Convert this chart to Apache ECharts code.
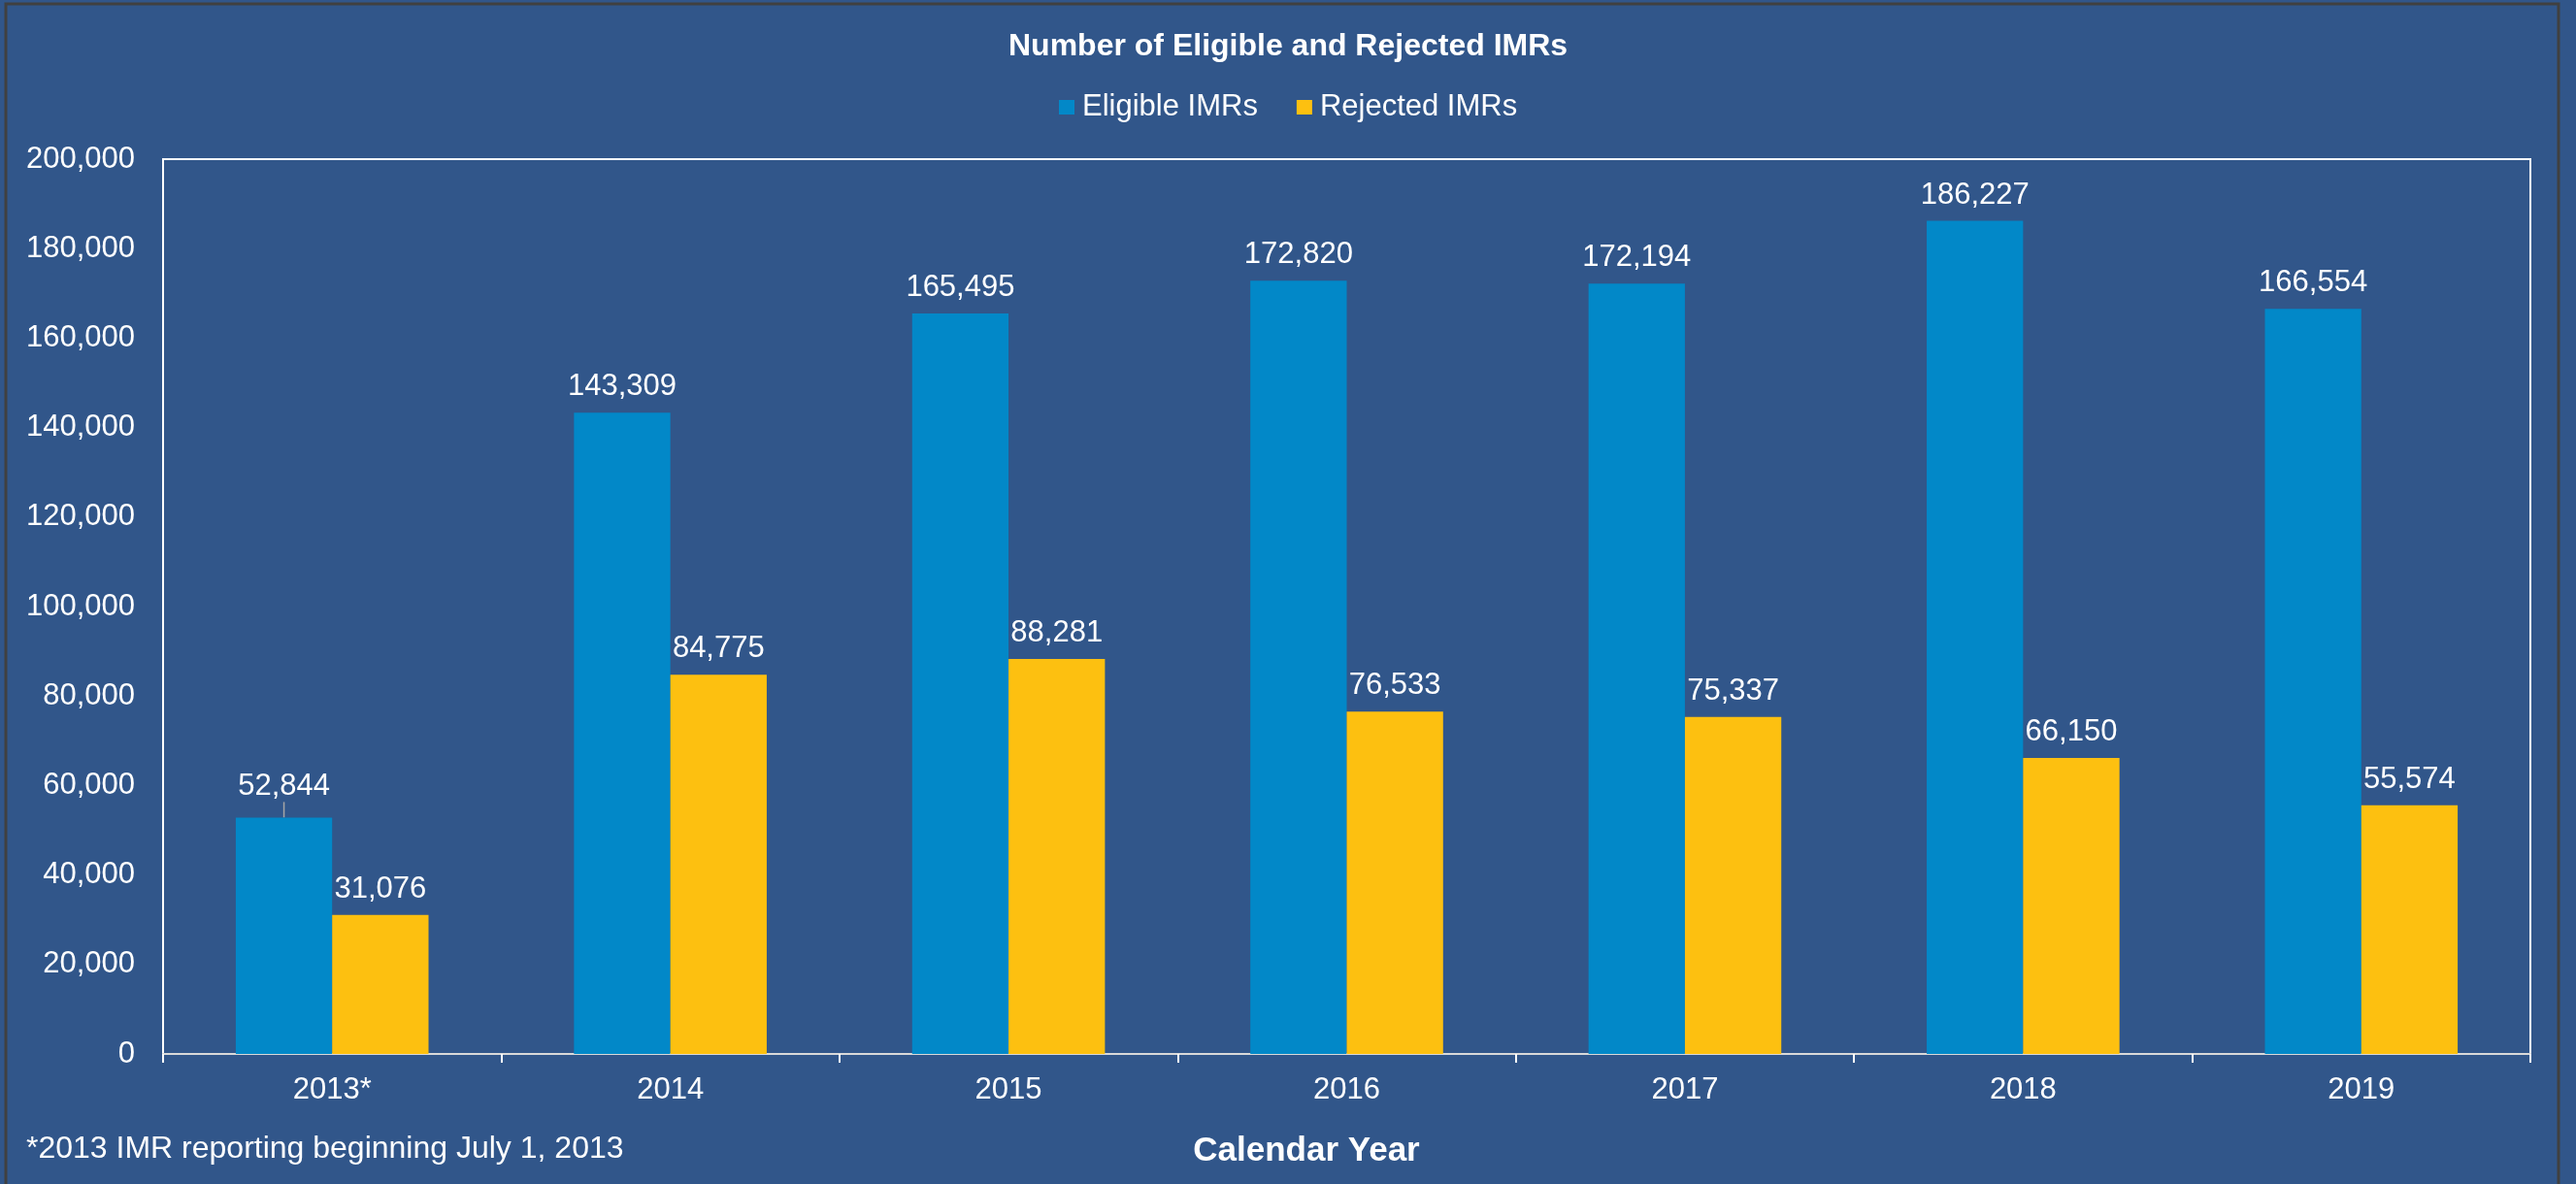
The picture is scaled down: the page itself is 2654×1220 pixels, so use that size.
<!DOCTYPE html>
<html>
<head>
<meta charset="utf-8">
<title>Number of Eligible and Rejected IMRs</title>
<script src="https://cdn.jsdelivr.net/npm/echarts@6/dist/echarts.min.js"></script>
<style>
  html, body { margin: 0; padding: 0; background: #31568a; }
  #chart { width: 2654px; height: 1220px; }
</style>
</head>
<body>
<div id="chart"></div>
<script>
// Calendar years on the category axis
const years = ['2013*', '2014', '2015', '2016', '2017', '2018', '2019'];
// IMR counts per year
const eligibleIMRs = [52844, 143309, 165495, 172820, 172194, 186227, 166554];
const rejectedIMRs = [31076, 84775, 88281, 76533, 75337, 66150, 55574];
// Value-axis range
const yMin = 0;
const yMax = 200000;
const yStep = 20000;

const FONT = '"Liberation Sans", Arial, sans-serif';
const fmt = v => v.toLocaleString('en-US');

const chart = echarts.init(document.getElementById('chart'), null, { renderer: 'canvas' });

const labelStyle = {
  show: true,
  position: 'top',
  distance: 11,
  color: '#ffffff',
  fontFamily: FONT,
  fontSize: 31,
  formatter: p => fmt(p.value)
};

// The first (partial-year) label is lifted slightly and tied to its bar by a short leader line
const eligibleData = eligibleIMRs.map((v, i) => (
  i === 0
    ? { value: v, labelLine: { show: true, lineStyle: { color: '#a6a6a6', width: 1.5 } } }
    : { value: v }
));

chart.setOption({
  backgroundColor: '#31568a',
  animation: false,
  title: {
    text: 'Number of Eligible and Rejected IMRs',
    left: 1034,
    top: 27,
    textStyle: { color: '#ffffff', fontFamily: FONT, fontSize: 32, fontWeight: 'bold' }
  },
  legend: {
    left: 1086,
    top: 90,
    itemWidth: 16,
    itemHeight: 15,
    itemGap: 40,
    icon: 'rect',
    textStyle: { color: '#ffffff', fontFamily: FONT, fontSize: 31, padding: [0, 0, 0, 3] },
    data: ['Eligible IMRs', 'Rejected IMRs']
  },
  grid: {
    left: 168,
    right: 47,
    top: 164,
    bottom: 134,
    show: true,
    borderColor: '#ffffff',
    borderWidth: 2,
    backgroundColor: 'transparent'
  },
  xAxis: {
    type: 'category',
    data: years,
    axisLine: { show: true, lineStyle: { color: '#d9d9d9', width: 2 } },
    axisTick: { show: true, length: 9, lineStyle: { color: '#ffffff', width: 2 } },
    axisLabel: { color: '#ffffff', fontFamily: FONT, fontSize: 31, margin: 22 },
    splitLine: { show: false }
  },
  yAxis: {
    type: 'value',
    min: yMin,
    max: yMax,
    interval: yStep,
    axisLine: { show: true, lineStyle: { color: '#ffffff', width: 2 } },
    axisTick: { show: false },
    axisLabel: { color: '#ffffff', fontFamily: FONT, fontSize: 31, margin: 29, formatter: fmt },
    splitLine: { show: false }
  },
  series: [
    {
      name: 'Eligible IMRs',
      type: 'bar',
      data: eligibleData,
      barWidth: '28.5%',
      barGap: '0%',
      itemStyle: { color: '#0288c8' },
      label: labelStyle,
      labelLayout: p => (p.dataIndex === 0 ? { dy: -5 } : {})
    },
    {
      name: 'Rejected IMRs',
      type: 'bar',
      data: rejectedIMRs,
      barWidth: '28.5%',
      itemStyle: { color: '#fdc010' },
      label: labelStyle
    }
  ],
  graphic: [
    {
      type: 'rect',
      silent: true,
      shape: { x: 6, y: 4, width: 2630, height: 1300 },
      style: { fill: 'none', stroke: '#404040', lineWidth: 3 }
    },
    {
      type: 'text',
      left: 27,
      top: 1168,
      style: {
        text: '*2013 IMR reporting beginning July 1, 2013',
        fill: '#ffffff',
        font: '32px ' + FONT
      }
    },
    {
      type: 'text',
      x: 1346,
      y: 1186,
      style: {
        text: 'Calendar Year',
        fill: '#ffffff',
        font: 'bold 35px ' + FONT,
        align: 'center',
        verticalAlign: 'middle'
      }
    }
  ]
});
</script>
</body>
</html>
